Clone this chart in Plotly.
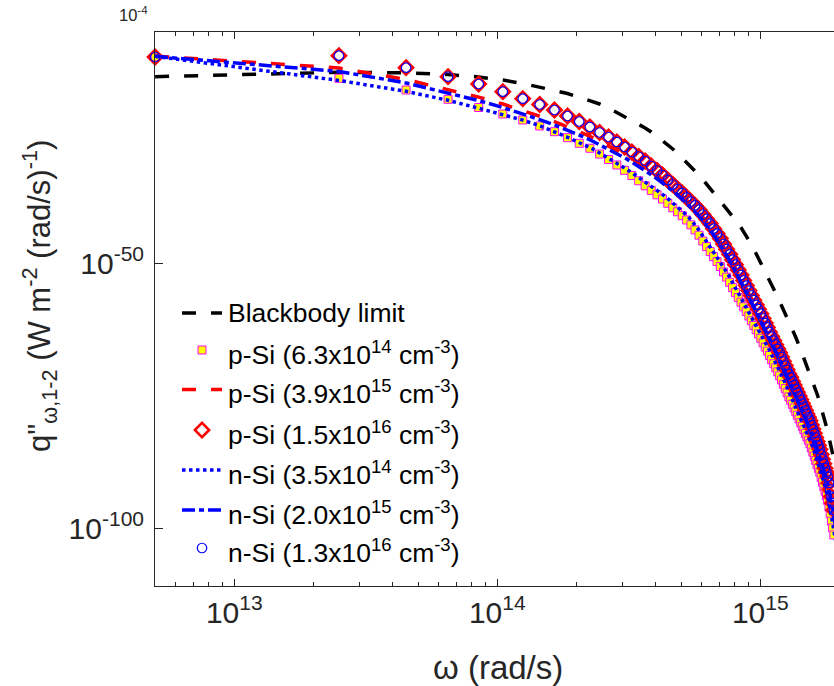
import plotly.graph_objects as go

# Angular frequency grid (rad/s): uniform step of 2e13 rad/s starting at 5e12 rad/s
omega = [5e12 + 2e13 * k for k in range(100)]

# log10 of the spectral heat flux q''_w,1-2 in W m^-2 (rad/s)^-1 at each omega
blackbody_log10 = [
    -14.79, -13.96, -14.08, -14.38, -14.85, -15.42, -16.08, -16.87, -17.40, -17.96,
    -18.62, -19.28, -19.94, -20.70, -21.55, -22.30, -22.96, -23.72, -24.47, -25.23,
    -26.08, -26.83, -27.64, -28.43, -29.28, -30.13, -30.89, -31.64, -32.49, -33.34,
    -34.19, -35.04, -35.89, -36.74, -37.49, -38.25, -39.00, -39.66, -40.32, -41.08,
    -41.74, -42.49, -43.25, -44.00, -44.75, -45.60, -46.45, -47.30, -48.15, -49.00,
    -49.94, -50.79, -51.64, -52.49, -53.25, -54.00, -54.75, -55.57, -56.36, -57.21,
    -57.96, -58.72, -59.51, -60.28, -61.04, -61.75, -62.51, -63.25, -63.96, -64.66,
    -65.51, -66.32, -67.11, -67.87, -68.68, -69.45, -70.23, -70.98, -71.74, -72.43,
    -73.15, -73.91, -74.66, -75.47, -76.36, -77.17, -78.06, -78.87, -79.66, -80.60,
    -81.64, -82.77, -83.81, -84.94, -85.98, -87.02, -88.06, -89.09, -90.13, -91.17,
]

p_si_6p3e14_log10 = [
    -11.08, -15.09, -17.30, -19.06, -20.60, -21.83, -22.96, -24.09, -25.17, -26.30,
    -27.36, -28.30, -29.38, -30.42, -31.45, -32.45, -33.43, -34.43, -35.38, -36.25,
    -37.08, -37.87, -38.68, -39.53, -40.28, -41.02, -41.83, -42.75, -43.70, -44.70,
    -45.80, -46.85, -47.79, -48.75, -49.68, -50.60, -51.64, -52.62, -53.58, -54.60,
    -55.54, -56.45, -57.35, -58.22, -59.07, -59.95, -60.85, -61.72, -62.55, -63.33,
    -64.15, -65.00, -65.82, -66.58, -67.40, -68.20, -68.95, -69.72, -70.49, -71.23,
    -72.02, -72.83, -73.64, -74.43, -75.21, -75.85, -76.60, -77.30, -78.02, -78.68,
    -79.38, -80.06, -80.76, -81.40, -82.09, -82.76, -83.40, -84.04, -84.85, -85.62,
    -86.40, -87.21, -87.98, -88.70, -89.45, -90.40, -91.30, -92.15, -93.00, -93.90,
    -94.75, -96.00, -97.28, -98.65, -99.93, -101.25, -102.57, -103.89, -105.21, -106.53,
]

p_si_3p9e15_log10 = [
    -10.90, -13.15, -15.32, -17.20, -18.65, -19.95, -21.15, -22.25, -23.25, -24.20,
    -25.15, -26.05, -26.95, -27.80, -28.65, -29.45, -30.25, -31.05, -31.85, -32.65,
    -33.43, -34.19, -34.94, -35.70, -36.50, -37.25, -38.05, -38.89, -39.64, -40.44,
    -41.34, -42.19, -43.06, -44.02, -44.95, -45.87, -46.91, -47.89, -48.85, -49.87,
    -50.81, -51.81, -52.76, -53.78, -54.76, -55.70, -56.63, -57.51, -58.38, -59.21,
    -60.06, -60.97, -61.83, -62.66, -63.55, -64.38, -65.13, -65.91, -66.68, -67.42,
    -68.23, -69.04, -69.85, -70.64, -71.42, -72.06, -72.81, -73.51, -74.23, -74.89,
    -75.59, -76.27, -76.97, -77.61, -78.30, -78.97, -79.61, -80.25, -81.06, -81.83,
    -82.61, -83.42, -84.19, -84.91, -85.66, -86.61, -87.51, -88.36, -89.21, -90.00,
    -90.80, -92.00, -93.23, -94.55, -95.78, -97.10, -98.42, -99.74, -101.06, -102.38,
]

p_si_1p5e16_log10 = [
    -11.08, -10.83, -13.09, -14.79, -16.17, -17.62, -18.94, -20.04, -21.08, -22.21,
    -23.25, -24.28, -25.32, -26.17, -27.11, -28.06, -29.00, -29.85, -30.70, -31.64,
    -32.49, -33.34, -34.28, -35.13, -35.98, -36.74, -37.58, -38.34, -39.09, -39.89,
    -40.79, -41.64, -42.51, -43.47, -44.40, -45.32, -46.36, -47.34, -48.30, -49.32,
    -50.26, -51.26, -52.21, -53.23, -54.21, -55.15, -56.08, -56.96, -57.83, -58.66,
    -59.51, -60.42, -61.28, -62.11, -63.00, -63.83, -64.58, -65.36, -66.13, -66.87,
    -67.68, -68.49, -69.30, -70.09, -70.87, -71.51, -72.26, -72.96, -73.68, -74.34,
    -75.04, -75.72, -76.42, -77.06, -77.75, -78.42, -79.06, -79.70, -80.51, -81.28,
    -82.06, -82.87, -83.64, -84.36, -85.11, -86.06, -86.96, -87.81, -88.66, -89.45,
    -90.25, -91.45, -92.68, -94.00, -95.23, -96.55, -97.87, -99.19, -100.51, -101.83,
]

n_si_3p5e14_log10 = [
    -10.95, -15.50, -17.55, -19.25, -20.75, -21.90, -22.98, -24.05, -25.12, -26.22,
    -27.25, -28.15, -29.18, -30.15, -31.10, -32.02, -32.90, -33.78, -34.66, -35.47,
    -36.25, -37.00, -37.80, -38.63, -39.38, -40.12, -40.93, -41.80, -42.75, -43.75,
    -44.85, -45.90, -46.84, -47.80, -48.73, -49.65, -50.69, -51.67, -52.63, -53.65,
    -54.59, -55.50, -56.40, -57.27, -58.12, -59.00, -59.90, -60.77, -61.60, -62.38,
    -63.20, -64.05, -64.87, -65.63, -66.45, -67.25, -68.00, -68.77, -69.54, -70.28,
    -71.07, -71.88, -72.69, -73.48, -74.26, -74.90, -75.65, -76.35, -77.07, -77.73,
    -78.43, -79.11, -79.81, -80.45, -81.14, -81.81, -82.45, -83.09, -83.90, -84.67,
    -85.45, -86.26, -87.03, -87.75, -88.50, -89.45, -90.35, -91.20, -92.05, -92.95,
    -93.80, -95.05, -96.33, -97.70, -98.98, -100.30, -101.62, -102.94, -104.26, -105.58,
]

n_si_2p0e15_log10 = [
    -10.95, -13.80, -15.97, -17.85, -19.30, -20.60, -21.80, -22.90, -23.90, -24.85,
    -25.80, -26.70, -27.60, -28.45, -29.30, -30.10, -30.90, -31.70, -32.50, -33.30,
    -34.08, -34.84, -35.59, -36.35, -37.15, -37.90, -38.70, -39.54, -40.29, -41.09,
    -41.99, -42.84, -43.71, -44.67, -45.60, -46.52, -47.56, -48.54, -49.50, -50.52,
    -51.46, -52.46, -53.41, -54.43, -55.41, -56.35, -57.28, -58.16, -59.03, -59.86,
    -60.71, -61.62, -62.48, -63.31, -64.20, -65.03, -65.78, -66.56, -67.33, -68.07,
    -68.88, -69.69, -70.50, -71.29, -72.07, -72.71, -73.46, -74.16, -74.88, -75.54,
    -76.24, -76.92, -77.62, -78.26, -78.95, -79.62, -80.26, -80.90, -81.71, -82.48,
    -83.26, -84.07, -84.84, -85.56, -86.31, -87.26, -88.16, -89.01, -89.86, -90.65,
    -91.45, -92.65, -93.88, -95.20, -96.43, -97.75, -99.07, -100.39, -101.71, -103.03,
]

n_si_1p3e16_log10 = [
    -11.08, -10.83, -13.09, -14.79, -16.17, -17.62, -18.94, -20.04, -21.08, -22.21,
    -23.25, -24.28, -25.32, -26.17, -27.11, -28.06, -29.00, -29.85, -30.70, -31.64,
    -32.49, -33.34, -34.28, -35.13, -35.98, -36.74, -37.58, -38.34, -39.09, -39.89,
    -40.79, -41.64, -42.51, -43.47, -44.40, -45.32, -46.36, -47.34, -48.30, -49.32,
    -50.26, -51.26, -52.21, -53.23, -54.21, -55.15, -56.08, -56.96, -57.83, -58.66,
    -59.51, -60.42, -61.28, -62.11, -63.00, -63.83, -64.58, -65.36, -66.13, -66.87,
    -67.68, -68.49, -69.30, -70.09, -70.87, -71.51, -72.26, -72.96, -73.68, -74.34,
    -75.04, -75.72, -76.42, -77.06, -77.75, -78.42, -79.06, -79.70, -80.51, -81.28,
    -82.06, -82.87, -83.64, -84.36, -85.11, -86.06, -86.96, -87.81, -88.66, -89.45,
    -90.25, -91.45, -92.68, -94.00, -95.23, -96.55, -97.87, -99.19, -100.51, -101.83,
]

legend_labels = [
    "Blackbody limit",
    "p-Si (6.3x10<sup>14</sup> cm<sup>-3</sup>)",
    "p-Si (3.9x10<sup>15</sup> cm<sup>-3</sup>)",
    "p-Si (1.5x10<sup>16</sup> cm<sup>-3</sup>)",
    "n-Si (3.5x10<sup>14</sup> cm<sup>-3</sup>)",
    "n-Si (2.0x10<sup>15</sup> cm<sup>-3</sup>)",
    "n-Si (1.3x10<sup>16</sup> cm<sup>-3</sup>)",
]

x_tick_vals = [1e13, 1e14, 1e15]
x_tick_text = ["10<sup>13</sup>", "10<sup>14</sup>", "10<sup>15</sup>"]
y_tick_vals = [1e-100, 1e-50]
y_tick_text = ["10<sup>-100</sup>", "10<sup>-50</sup>"]

series = [
    blackbody_log10, p_si_6p3e14_log10, p_si_3p9e15_log10, p_si_1p5e16_log10,
    n_si_3p5e14_log10, n_si_2p0e15_log10, n_si_1p3e16_log10,
]
for s in series:
    assert len(s) == len(omega)


def flux(log_vals):
    return [10.0 ** v for v in log_vals]


INK = "#262626"
FONT = "Liberation Sans"
W, H = 834, 686
PL, PR, PT, PB = 155, 834, 32, 586   # plot-area edges in page pixels


def px(xp):
    return (xp - PL) / (PR - PL)


def py(yp):
    return (PB - yp) / (PB - PT)


# (mode, line style, marker style) for each series, in drawing order
styles = [
    ("lines", dict(color="#000000", width=3.5, dash="14px,15px"), None),
    ("markers", None, dict(symbol="square", size=8, color="#FFFF00",
                            line=dict(color="#FF00FF", width=1))),
    ("lines", dict(color="#FF0000", width=3.5, dash="14px,15px"), None),
    ("markers", None, dict(symbol="diamond-open", size=11, color="#FF0000",
                            line=dict(color="#FF0000", width=2.5))),
    ("lines", dict(color="#0000FF", width=3.5, dash="3.5px,3.5px"), None),
    ("lines", dict(color="#0000FF", width=3.5, dash="13px,4px,5px,4px"), None),
    ("markers", None, dict(symbol="circle-open", size=9.5, color="#0000FF",
                            line=dict(color="#0000FF", width=1.2))),
]

fig = go.Figure()

for vals, (mode, line, marker), name in zip(series, styles, legend_labels):
    kw = dict(x=omega, y=flux(vals), mode=mode, name=name, showlegend=False,
              cliponaxis=False, hoverinfo="skip")
    if line:
        kw["line"] = line
    if marker:
        kw["marker"] = marker
    fig.add_trace(go.Scatter(**kw))

# Legend keys, drawn on a pixel-coordinate overlay
legend_rows = [313, 350, 389.5, 430, 470, 510, 548]
for (mode, line, marker), yy in zip(styles, legend_rows):
    if mode == "lines":
        fig.add_trace(go.Scatter(x=[182, 222], y=[yy, yy], mode="lines", line=line,
                                 xaxis="x2", yaxis="y2", showlegend=False,
                                 hoverinfo="skip", cliponaxis=False))
    else:
        fig.add_trace(go.Scatter(x=[202], y=[yy], mode="markers", marker=marker,
                                 xaxis="x2", yaxis="y2", showlegend=False,
                                 hoverinfo="skip", cliponaxis=False))

annotations = []
for label, yy in zip(legend_labels, legend_rows):
    dy = 0 if "<sup>" not in label else 2.5
    annotations.append(dict(
        text=label, x=px(226), y=py(yy + dy), xref="paper", yref="paper",
        xanchor="left", yanchor="middle", showarrow=False,
        font=dict(family=FONT, size=26.5, color="#000000")))

annotations.append(dict(
    text="ω (rad/s)", x=px(498), y=py(668), xref="paper", yref="paper",
    xanchor="center", yanchor="middle", showarrow=False,
    font=dict(family=FONT, size=33, color=INK)))
annotations.append(dict(
    text="q\"<sub>ω,1-2</sub> (W m<sup>-2</sup> (rad/s)<sup>-1</sup>)",
    x=px(39), y=py(296), xref="paper", yref="paper", textangle=-90,
    xanchor="center", yanchor="middle", showarrow=False,
    font=dict(family=FONT, size=31, color=INK)))
annotations.append(dict(
    text="10<sup>-4</sup>", x=px(150), y=py(14), xref="paper", yref="paper",
    xanchor="right", yanchor="middle", showarrow=False,
    font=dict(family=FONT, size=16.5, color=INK)))

minor_x = [m * 10.0 ** e for e in (12, 13, 14) for m in range(2, 10)
           if 5e12 < m * 10.0 ** e < 2e15]

fig.update_layout(
    width=W, height=H,
    margin=dict(l=PL, r=W - PR, t=PT, b=H - PB, pad=0),
    paper_bgcolor="white", plot_bgcolor="white",
    font=dict(family=FONT, color=INK),
    annotations=annotations,
    xaxis=dict(
        type="log", range=[12.6985, 15.2805], showgrid=False, zeroline=False,
        showline=True, linecolor=INK, linewidth=1, mirror="allticks",
        ticks="inside", ticklen=7, tickwidth=1, tickcolor=INK,
        tickvals=x_tick_vals, ticktext=x_tick_text,
        tickfont=dict(family=FONT, size=30, color=INK),
        minor=dict(tickvals=minor_x, ticks="inside", ticklen=4, tickwidth=1,
                   tickcolor=INK, showgrid=False),
    ),
    yaxis=dict(
        type="log", range=[-110.89, -6.36], showgrid=False, zeroline=False,
        showline=True, linecolor=INK, linewidth=1, mirror=False,
        ticks="inside", ticklen=8, tickwidth=1, tickcolor=INK,
        tickvals=y_tick_vals, ticktext=y_tick_text, ticklabelstandoff=4,
        tickfont=dict(family=FONT, size=30, color=INK),
    ),
    xaxis2=dict(overlaying="x", anchor="y2", range=[PL, PR], visible=False),
    yaxis2=dict(overlaying="y", anchor="x2", range=[PB, PT], visible=False),
)

fig.write_html("out.html")
